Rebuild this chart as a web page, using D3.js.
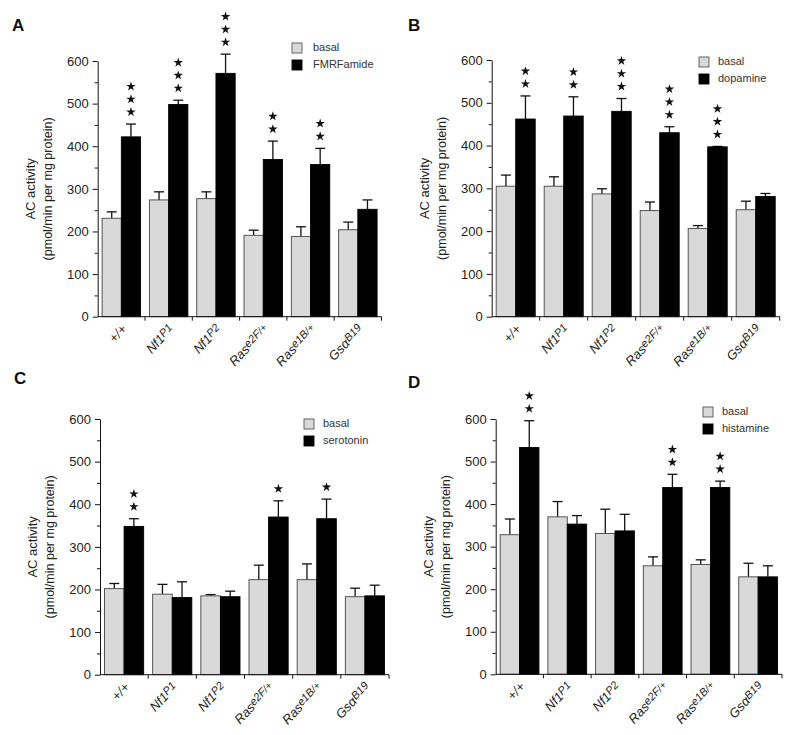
<!DOCTYPE html>
<html>
<head>
<meta charset="utf-8">
<script src="https://cdn.jsdelivr.net/npm/d3@7"></script>
<style>
  html, body { margin: 0; padding: 0; background: #fff; }
  svg { display: block; font-family: "Liberation Sans", Arial, Helvetica, sans-serif; }
</style>
</head>
<body>
<svg id="chart" width="800" height="735"></svg>
<script>
// ---------- data ----------
const categories = ["+/+", "Nf1P1", "Nf1P2", "Rase2F/+", "Rase1B/+", "GsαB19"];
const labelBase = ["+/+", "Nf1", "Nf1", "Ras", "Ras", "Gsα"];
const labelSup  = ["", "P1", "P2", "e2F", "e1B", "B19"];
const labelTail = ["", "", "", "/+", "/+", ""];
const yTicks = [0, 100, 200, 300, 400, 500, 600];
const yMinorTicks = [50, 150, 250, 350, 450, 550];
const seriesNames = ["basal", "stim"];

// Panel A: FMRFamide
const basalA    = [231, 274, 277, 191, 188, 204];
const basalErrA = [15, 19, 16, 12, 23, 18];
const fmrfA     = [422, 498, 571, 369, 357, 252];
const fmrfErrA  = [30, 10, 45, 43, 38, 22];
const starsA    = [3, 3, 3, 2, 2, 0];

// Panel B: dopamine
const basalB    = [305, 305, 287, 248, 206, 250];
const basalErrB = [26, 22, 12, 20, 7, 20];
const dopaB     = [462, 469, 480, 430, 397, 281];
const dopaErrB  = [54, 45, 30, 14, 1, 7];
const starsB    = [2, 2, 3, 3, 3, 0];

// Panel C: serotonin
const basalC    = [202, 189, 185, 223, 223, 183];
const basalErrC = [12, 23, 3, 34, 37, 20];
const seroC     = [348, 181, 183, 370, 366, 185];
const seroErrC  = [18, 37, 13, 38, 46, 25];
const starsC    = [2, 0, 0, 1, 1, 0];

// Panel D: histamine
const basalD    = [328, 370, 331, 255, 258, 229];
const basalErrD = [37, 36, 57, 21, 11, 32];
const histD     = [533, 353, 337, 439, 439, 229];
const histErrD  = [63, 20, 39, 31, 15, 26];
const starsD    = [2, 0, 0, 2, 2, 0];

// ---------- layout ----------
const panels = [
  { letter: "A", lx: 12, ly: 31, x0: 97.7, x1: 381.5, yb: 316.7, yt: 61,
    basal: basalA, basalErr: basalErrA, stim: fmrfA, stimErr: fmrfErrA, stars: starsA,
    stimName: "FMRFamide", legX: 292, legY: 43, legGap: 21 },
  { letter: "B", lx: 408, ly: 31, x0: 491.7, x1: 779.7, yb: 316.7, yt: 60,
    basal: basalB, basalErr: basalErrB, stim: dopaB, stimErr: dopaErrB, stars: starsB,
    stimName: "dopamine", legX: 699, legY: 57, legGap: 19 },
  { letter: "C", lx: 14, ly: 384, x0: 100, x1: 389, yb: 674.7, yt: 419,
    basal: basalC, basalErr: basalErrC, stim: seroC, stimErr: seroErrC, stars: starsC,
    stimName: "serotonin", legX: 304, legY: 419, legGap: 19 },
  { letter: "D", lx: 408, ly: 388, x0: 495.7, x1: 782, yb: 674.3, yt: 419,
    basal: basalD, basalErr: basalErrD, stim: histD, stimErr: histErrD, stars: starsD,
    stimName: "histamine", legX: 703, legY: 407, legGap: 19 }
];

const GRAY = "#d9d9d9";
const svg = d3.select("#chart");

panels.forEach(p => {
  const g = svg.append("g");
  const y = d3.scaleLinear().domain([0, 600]).range([p.yb, p.yt]);
  const xg = d3.scaleBand().domain(categories).range([p.x0, p.x1]).padding(0);
  const xs = d3.scaleBand().domain(seriesNames).range([0, xg.bandwidth()])
               .paddingInner(0).paddingOuter(0.23);

  // panel letter
  g.append("text").attr("x", p.lx).attr("y", p.ly)
    .attr("font-size", 17).attr("font-weight", "bold").attr("fill", "#111").text(p.letter);

  const rows = categories.map((c, i) => ({
    c, i,
    vals: [
      { s: "basal", v: p.basal[i], e: p.basalErr[i] },
      { s: "stim", v: p.stim[i], e: p.stimErr[i] }
    ]
  }));

  const grp = g.selectAll("g.grp").data(rows).enter().append("g")
    .attr("class", "grp")
    .attr("transform", d => `translate(${xg(d.c)},0)`);

  // error bars
  grp.selectAll("g.err").data(d => d.vals).enter().append("g").attr("class", "err")
    .each(function(d) {
      const cx = xs(d.s) + xs.bandwidth() / 2;
      const sel = d3.select(this);
      sel.append("line").attr("x1", cx).attr("x2", cx)
        .attr("y1", y(d.v)).attr("y2", y(d.v + d.e))
        .attr("stroke", "#111").attr("stroke-width", 1.3);
      sel.append("line").attr("x1", cx - 5).attr("x2", cx + 5)
        .attr("y1", y(d.v + d.e)).attr("y2", y(d.v + d.e))
        .attr("stroke", "#111").attr("stroke-width", 1.3);
    });

  // bars
  grp.selectAll("rect").data(d => d.vals).enter().append("rect")
    .attr("x", d => xs(d.s))
    .attr("y", d => y(d.v))
    .attr("width", xs.bandwidth())
    .attr("height", d => y(0) - y(d.v))
    .attr("fill", d => d.s === "basal" ? GRAY : "#000")
    .attr("stroke", d => d.s === "basal" ? "#444" : "#000")
    .attr("stroke-width", 0.9);

  // significance stars
  rows.forEach(d => {
    const n = p.stars[d.i];
    const top = y(p.stim[d.i] + p.stimErr[d.i]);
    const cx = xg(d.c) + xs("stim") + xs.bandwidth() / 2;
    for (let k = 0; k < n; k++) {
      g.append("path")
        .attr("d", d3.symbol().type(d3.symbolStar).size(28)())
        .attr("transform", `translate(${cx},${top - 12 - k * 12.8})`)
        .attr("fill", "#111");
    }
  });

  // y axis
  const yAxis = g.append("g").attr("transform", `translate(${p.x0},0)`)
    .call(d3.axisLeft(y).tickValues(yTicks).tickSize(5).tickSizeOuter(0).tickPadding(4));
  yAxis.selectAll("text").attr("font-size", 13).attr("fill", "#222")
    .attr("font-family", "'Liberation Sans', Arial, sans-serif");
  yAxis.select(".domain").attr("stroke", "#111");
  yAxis.selectAll(".tick line").attr("stroke", "#111");
  const yMinor = g.append("g").attr("transform", `translate(${p.x0},0)`)
    .call(d3.axisLeft(y).tickValues(yMinorTicks).tickSize(3).tickFormat(""));
  yMinor.select(".domain").remove();
  yMinor.selectAll(".tick line").attr("stroke", "#111");

  // x axis: baseline + group boundary ticks
  g.append("line").attr("x1", p.x0).attr("x2", p.x1)
    .attr("y1", y(0)).attr("y2", y(0)).attr("stroke", "#111");
  categories.forEach(c => {
    const tx = xg(c) + xg.bandwidth();
    g.append("line").attr("x1", tx).attr("x2", tx)
      .attr("y1", y(0)).attr("y2", y(0) + 4).attr("stroke", "#111");
  });

  // x labels
  categories.forEach((c, i) => {
    const cx = xg(c) + xg.bandwidth() / 2 + 6;
    const t = g.append("text")
      .attr("transform", `translate(${cx},${y(0) + 13}) rotate(-47)`)
      .attr("text-anchor", "end")
      .attr("font-size", 13).attr("font-style", "italic").attr("fill", "#222");
    t.append("tspan").text(labelBase[i]);
    if (labelSup[i]) {
      t.append("tspan").attr("font-size", 11).attr("dy", -2.5).text(labelSup[i]);
    }
    if (labelTail[i]) {
      t.append("tspan").attr("font-size", 10).attr("dy", 0).text(labelTail[i]);
    }
  });

  // y title
  const ymid = (p.yb + p.yt) / 2;
  g.append("text").attr("transform", `translate(${p.x0 - 63},${ymid}) rotate(-90)`)
    .attr("text-anchor", "middle").attr("font-size", 13).attr("fill", "#222").text("AC activity");
  g.append("text").attr("transform", `translate(${p.x0 - 46},${ymid}) rotate(-90)`)
    .attr("text-anchor", "middle").attr("font-size", 12.5).attr("fill", "#222")
    .text("(pmol/min per mg protein)");

  // legend
  const legItems = [{ name: "basal", fill: GRAY, stroke: "#555" },
                    { name: p.stimName, fill: "#000", stroke: "#000" }];
  legItems.forEach((it, k) => {
    const ly = p.legY + k * 17;
    g.append("rect").attr("x", p.legX).attr("y", ly).attr("width", 10).attr("height", 10)
      .attr("fill", it.fill).attr("stroke", it.stroke).attr("stroke-width", 0.9);
    g.append("text").attr("x", p.legX + p.legGap).attr("y", ly + 7.5)
      .attr("font-size", 11).attr("fill", "#333").text(it.name);
  });
});
</script>
</body>
</html>
